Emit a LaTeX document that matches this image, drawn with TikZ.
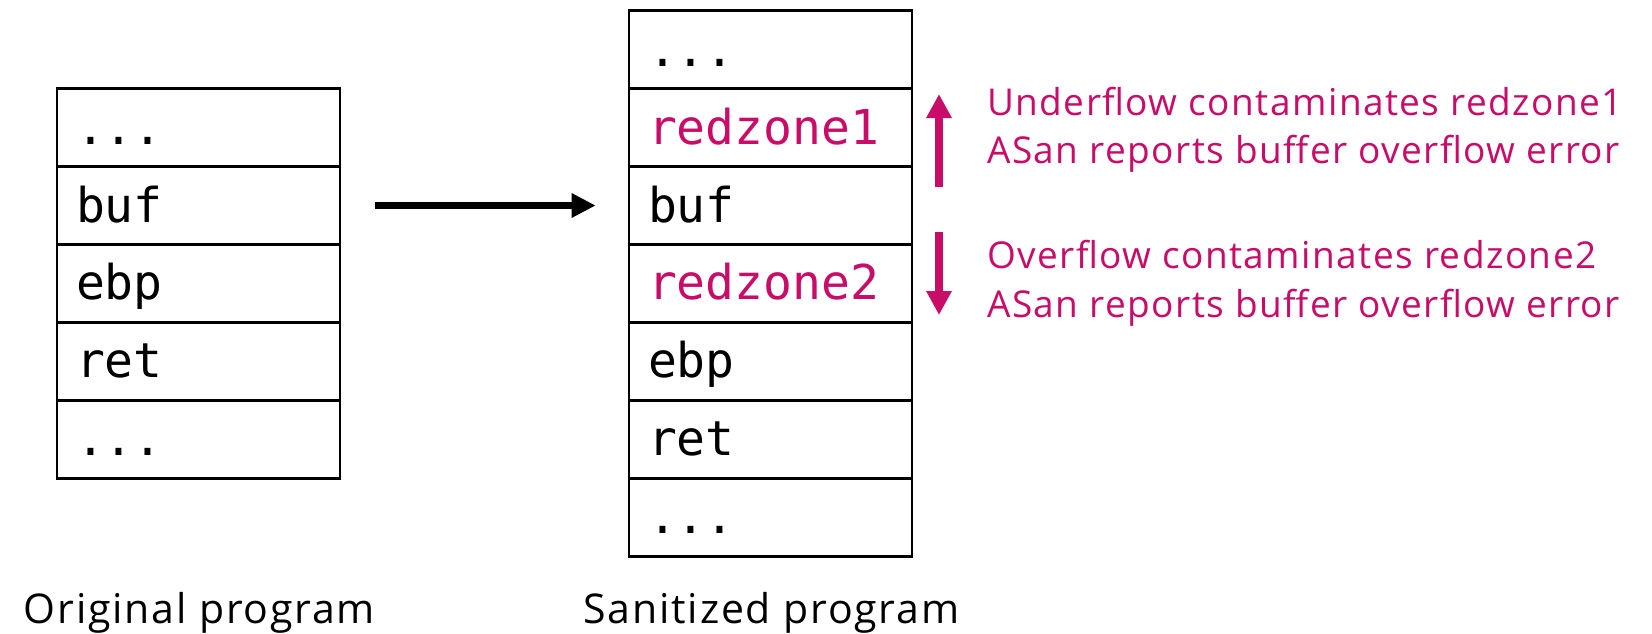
\documentclass[tikz,border=0pt]{standalone}
\usepackage{fontspec}
\setmainfont{Open Sans}
\setmonofont{DejaVu Sans Mono}
\newfontfamily\notefont{Open Sans}[LetterSpace=3.9]
\newfontfamily\capfont{Open Sans}[LetterSpace=4.4]
\usetikzlibrary{arrows.meta}
\definecolor{zonered}{RGB}{200,12,104}
\tikzset{
  cell/.style={draw=black, line width=2.6pt, rectangle,
    minimum width=283pt, minimum height=78pt,
    inner xsep=19pt, inner ysep=0pt, text width=245pt, align=left,
    text height=36pt, text depth=3pt,
    font=\fontsize{48}{50}\selectfont\ttfamily},
  zone/.style={cell, text=zonered},
  note/.style={anchor=base west, inner sep=0pt, text=zonered,
    font=\notefont\fontsize{37}{40}\selectfont},
  caption/.style={anchor=base, inner sep=0pt,
    font=\capfont\fontsize{41}{44}\selectfont},
  flowarrow/.style={line width=7pt, -{Triangle[length=24pt, width=23pt]}},
  zonearrow/.style={draw=zonered, line width=8pt,
    -{Triangle[length=24pt, width=24pt]}}
}
\begin{document}
\begin{tikzpicture}[x=1pt, y=-1pt]
  \useasboundingbox (0,0) rectangle (1652,633);

  % original stack frame
  \node[cell] (ltop) at (198.5,127.5) {...};
  \node[cell] (lbuf) at (198.5,205.5) {buf};
  \node[cell] (lebp) at (198.5,283.4) {ebp};
  \node[cell] (lret) at (198.5,361.4) {ret};
  \node[cell] (lbot) at (198.5,439.4) {...};

  % sanitized stack frame with redzones
  \node[cell] (rtop) at (770.5,49.5) {...};
  \node[zone] (rz1)  at (770.5,127.5) {redzone1};
  \node[cell] (rbuf) at (770.5,205.5) {buf};
  \node[zone] (rz2)  at (770.5,283.4) {redzone2};
  \node[cell] (rebp) at (770.5,361.4) {ebp};
  \node[cell] (rret) at (770.5,439.4) {ret};
  \node[cell] (rbot) at (770.5,517.3) {...};

  % transformation arrow
  \draw[flowarrow] ([xshift=34pt]lbuf.east) -- ([xshift=-32pt]rbuf.west);

  % underflow / overflow directions
  \coordinate (upfrom) at (939,187);
  \coordinate (upto)   at (939,94);
  \coordinate (dnfrom) at (939,232);
  \coordinate (dnto)   at (939,315);
  \draw[zonearrow] (upfrom) -- (upto);
  \draw[zonearrow] (dnfrom) -- (dnto);

  \node[note] (u1) at (987,115) {Underflow contaminates redzone1};
  \node[note] (u2) at (987,163) {ASan reports buffer overflow error};
  \node[note] (o1) at (987,268) {Overflow contaminates redzone2};
  \node[note] (o2) at (987,317) {ASan reports buffer overflow error};

  % captions
  \node[caption] (capl) at (199.5,623) {Original program};
  \node[caption] (capr) at (771.5,623) {Sanitized program};
\end{tikzpicture}
\end{document}
